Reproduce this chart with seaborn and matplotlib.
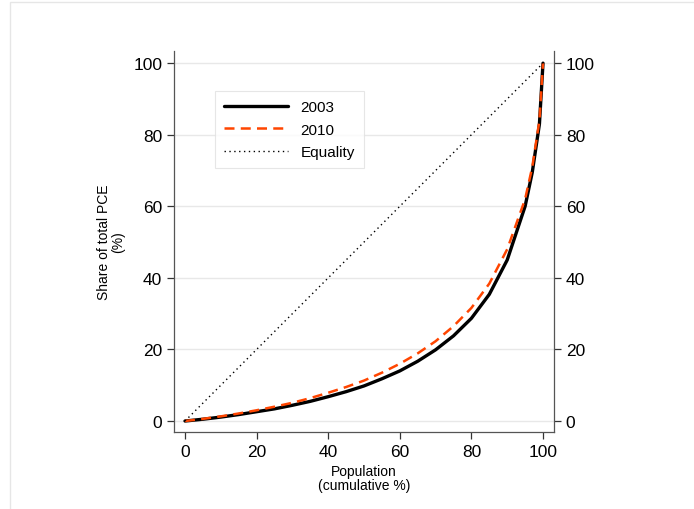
import numpy as np
import pandas as pd
import matplotlib.pyplot as plt
import seaborn as sns
from matplotlib.patches import Rectangle

# Lorenz curve readings (cumulative population %, cumulative share of PCE %)
population = [0, 5, 10, 15, 20, 25, 30, 35, 40, 45, 50, 55, 60, 65, 70, 75, 80, 85, 90, 95, 97, 99, 100]
share_2003 = [0, 0.5, 1.1, 1.8, 2.6, 3.4, 4.4, 5.5, 6.8, 8.2, 9.8, 11.8, 14.0, 16.7, 19.9, 23.8, 28.7, 35.4, 45.0, 60.0, 69.5, 83.0, 100]
share_2010 = [0, 0.6, 1.3, 2.1, 3.0, 4.0, 5.1, 6.4, 7.9, 9.5, 11.3, 13.5, 16.0, 18.9, 22.3, 26.5, 31.6, 38.4, 48.0, 62.0, 71.0, 84.0, 100]
equality = [0, 100]
ticks = [0, 20, 40, 60, 80, 100]

sns.set_theme(style="ticks")
plt.rcParams['font.family'] = ['Liberation Sans', 'DejaVu Sans']
plt.rcParams['text.color'] = 'black'
plt.rcParams['axes.labelcolor'] = 'black'
plt.rcParams['xtick.color'] = 'black'
plt.rcParams['ytick.color'] = 'black'

df = pd.DataFrame({"pop": population, "s2003": share_2003, "s2010": share_2010})

fig = plt.figure(figsize=(6.94, 5.10), dpi=100)
fig.patches.append(Rectangle((10 / 694, -0.01), 1.0, 1 - 3 / 510 + 0.01, transform=fig.transFigure,
                             fill=False, edgecolor="#e6e6e6", linewidth=1.0))
ax = fig.add_axes([174 / 694, 1 - 433 / 510, 380 / 694, 381 / 510])

sns.lineplot(data=df, x="pop", y="s2003", ax=ax, color="black", linewidth=2.4, label="2003")
sns.lineplot(data=df, x="pop", y="s2010", ax=ax, color="#ff4500", linewidth=1.8,
             linestyle=(0, (4, 2.5)), label="2010")
sns.lineplot(x=equality, y=equality, ax=ax, color="black", linewidth=1.0,
             linestyle=(0, (1, 2.5)), label="Equality")

ax.set_xlim(-3.07, 103.07)
ax.set_ylim(-3.07, 103.4)
ax.set_xticks(ticks)
ax.set_yticks(ticks)
ax.yaxis.grid(True, color="#e8e8e8", linewidth=1.0)
ax.set_axisbelow(True)
ax.tick_params(axis="both", labelsize=12.5, length=5, color="#333333", width=0.9)
ax.tick_params(axis="y", right=True, labelright=True)
for side in ["left", "right", "bottom"]:
    ax.spines[side].set_color("#555555")
    ax.spines[side].set_linewidth(0.9)
ax.spines["top"].set_visible(False)

ax.set_xlabel("Population\n(cumulative %)", fontsize=10, linespacing=1.0)
ax.set_ylabel("Share of total PCE\n(%)", fontsize=10, linespacing=1.0, labelpad=6)

leg = ax.legend(loc="upper left", bbox_to_anchor=(0.108, 0.895), borderaxespad=0, fontsize=11,
                frameon=True, fancybox=False, edgecolor="#e0e0e0", handlelength=4.2,
                borderpad=0.6, labelspacing=0.55, handletextpad=0.8)
leg.get_frame().set_linewidth(0.8)

fig.savefig("out.png", dpi=100)
